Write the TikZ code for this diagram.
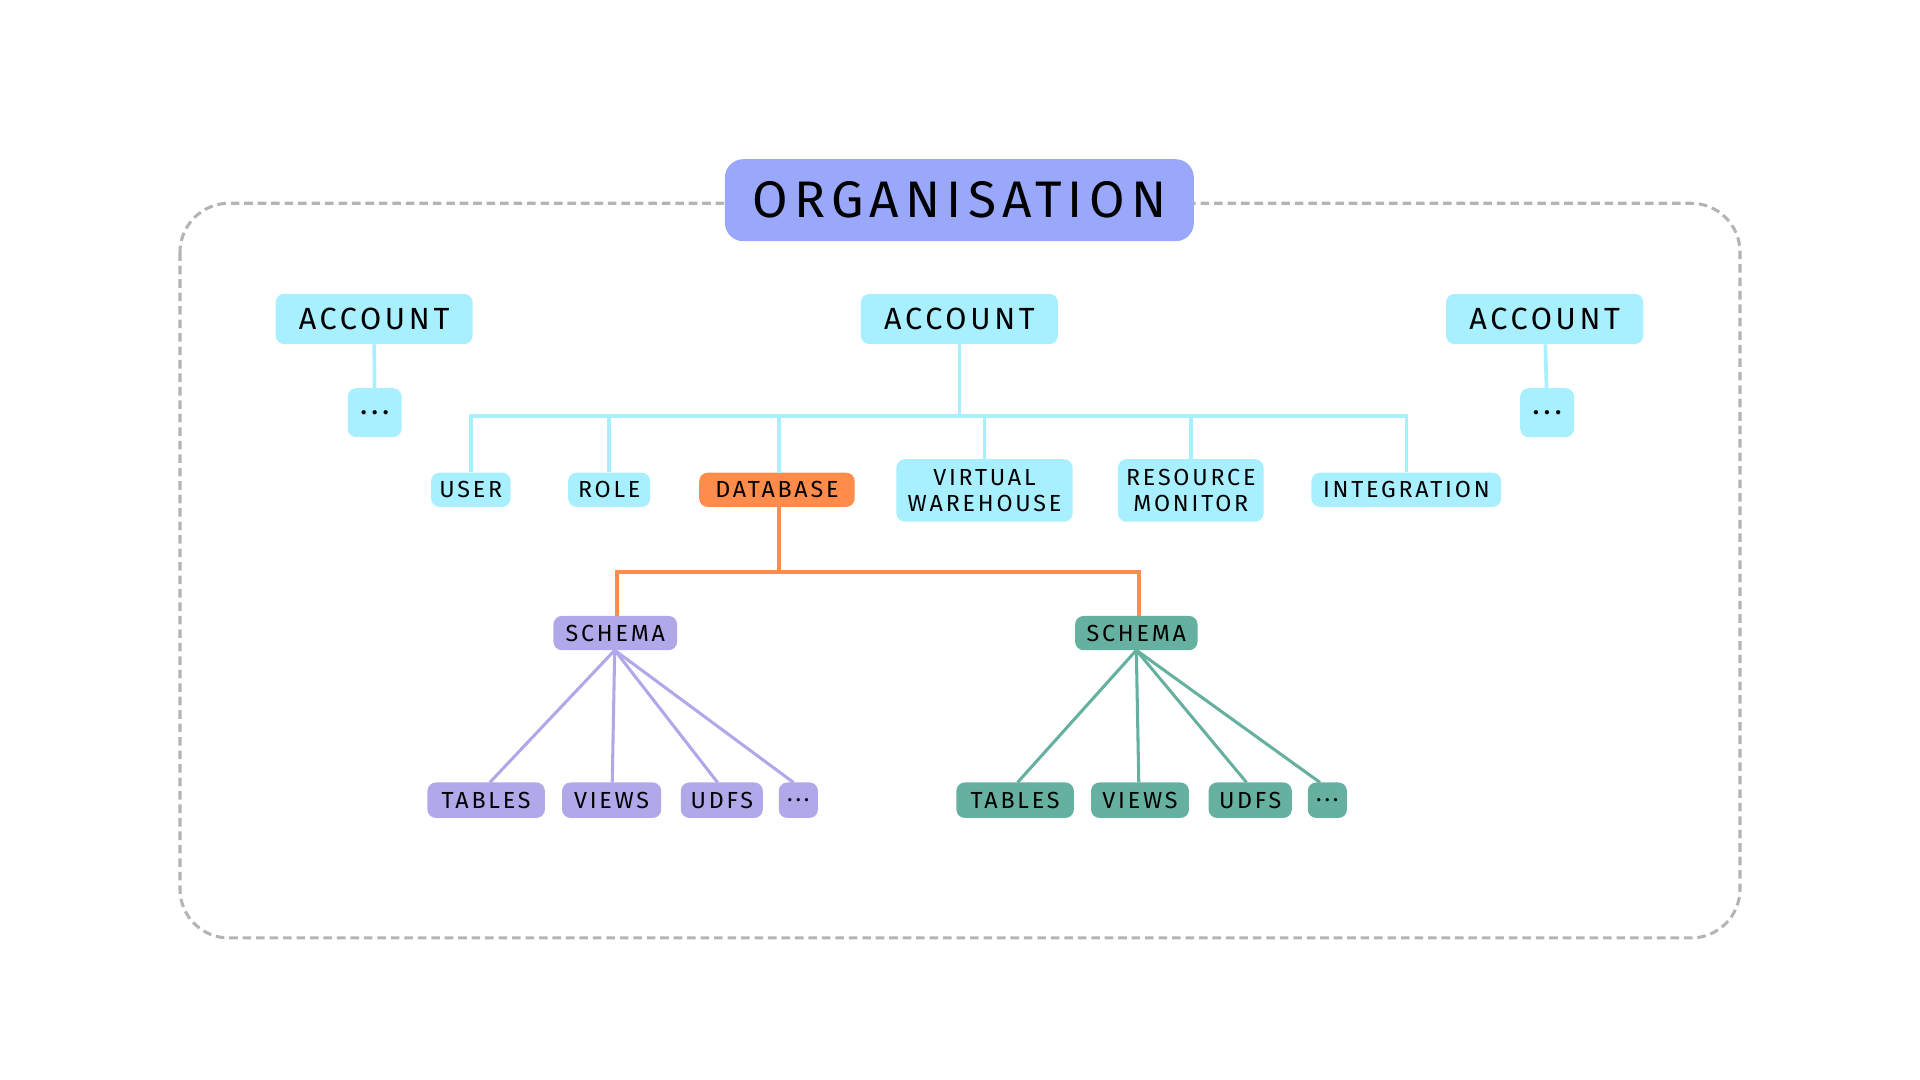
\documentclass[tikz,border=0pt]{standalone}
\usepackage{fontspec}
\setmainfont{Fira Sans}[LetterSpace=12]
\definecolor{org}{HTML}{9AA8FC}
\definecolor{acc}{HTML}{A8F0FF}
\definecolor{db}{HTML}{FF8C4A}
\definecolor{lav}{HTML}{B0A8E8}
\definecolor{teal}{HTML}{66B0A0}
\definecolor{dashgray}{HTML}{B4B4B4}
\begin{document}
\begin{tikzpicture}[x=1pt,y=-1pt,
  box/.style={rounded corners=7pt,inner sep=0pt,align=center,font=\fontsize{19}{21}\selectfont},
  big/.style={box,font=\fontsize{25}{28}\selectfont},
  cl/.style={draw=acc,line width=3pt},
  ol/.style={draw=db,line width=3pt},
  ll/.style={draw=lav,line width=2.5pt},
  tl/.style={draw=teal,line width=2.5pt}]
\useasboundingbox (0,0) rectangle (1568,882);
\draw[draw=dashgray,line width=2.5pt,dash pattern=on 7pt off 4pt,rounded corners=40pt] (147,166) rectangle (1421,766);
\node[box,fill=org,rounded corners=15pt,minimum width=383,minimum height=67,font=\fontsize{42}{46}\selectfont] (org) at (783.5,163.5) {ORGANISATION};
\node[big,fill=acc,minimum width=161,minimum height=41] (a1) at (305.5,260.5) {ACCOUNT};
\node[big,fill=acc,minimum width=161,minimum height=41] (a2) at (783.5,260.5) {ACCOUNT};
\node[big,fill=acc,minimum width=161,minimum height=41] (a3) at (1261.5,260.5) {ACCOUNT};
\node[big,fill=acc,minimum width=44,minimum height=40] (d1) at (306,337) {...};
\node[big,fill=acc,minimum width=44,minimum height=40] (d3) at (1263.5,337) {...};
\draw[cl] (a1) -- (d1);
\draw[cl] (a3) -- (d3);
\node[box,fill=acc,minimum width=65,minimum height=28] (user) at (384.5,400) {USER};
\node[box,fill=acc,minimum width=67,minimum height=28] (role) at (497.5,400) {ROLE};
\node[box,fill=db,minimum width=127,minimum height=28] (dbn) at (634.5,400) {DATABASE};
\node[box,fill=acc,minimum width=144,minimum height=51] (vw) at (804,400.5) {VIRTUAL\\WAREHOUSE};
\node[box,fill=acc,minimum width=119,minimum height=51] (rm) at (972.5,400.5) {RESOURCE\\MONITOR};
\node[box,fill=acc,minimum width=155,minimum height=28] (int) at (1148.5,400) {INTEGRATION};
\coordinate (hb) at (783.5,340);
\draw[cl] (a2.south) -- (hb);
\draw[cl] (user.north) |- (hb);
\draw[cl] (int.north) |- (hb);
\draw[cl] (role.north) -- (role.north|-hb);
\draw[cl] (636,386) -- (636,340);
\draw[cl] (vw.north) -- (vw.north|-hb);
\draw[cl] (rm.north) -- (rm.north|-hb);
\node[box,fill=lav,minimum width=101,minimum height=28] (s1) at (502.5,517) {SCHEMA};
\node[box,fill=teal,minimum width=100,minimum height=28] (s2) at (928,517) {SCHEMA};
\coordinate (ob) at (636,467);
\draw[ol] (636,414) -- (ob);
\draw[ol] (504,503) |- (ob);
\draw[ol] (930,503) |- (ob);
\node[box,fill=lav,minimum width=96,minimum height=29] (t1) at (397,653.5) {TABLES};
\node[box,fill=lav,minimum width=81,minimum height=29] (v1) at (499.5,653.5) {VIEWS};
\node[box,fill=lav,minimum width=67,minimum height=29] (u1) at (589.5,653.5) {UDFS};
\node[box,fill=lav,minimum width=32,minimum height=29] (e1) at (652,653.5) {...};
\node[box,fill=teal,minimum width=96,minimum height=29] (t2) at (829,653.5) {TABLES};
\node[box,fill=teal,minimum width=80,minimum height=29] (v2) at (931,653.5) {VIEWS};
\node[box,fill=teal,minimum width=68,minimum height=29] (u2) at (1021,653.5) {UDFS};
\node[box,fill=teal,minimum width=32,minimum height=29] (e2) at (1084,653.5) {...};
\coordinate (p1) at (502,531);
\coordinate (p2) at (928,531);
\draw[ll] (p1) -- (400,639);
\draw[ll] (p1) -- (500,639);
\draw[ll] (p1) -- (586,639);
\draw[ll] (p1) -- (648,639);
\draw[tl] (p2) -- (831,639);
\draw[tl] (p2) -- (930,639);
\draw[tl] (p2) -- (1018,639);
\draw[tl] (p2) -- (1078,639);
\end{tikzpicture}
\end{document}
